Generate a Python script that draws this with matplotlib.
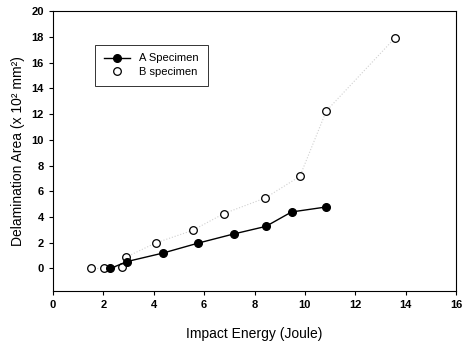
import matplotlib.pyplot as plt
import numpy as np

plt.rcParams['font.family'] = ['Liberation Sans', 'DejaVu Sans']

# impact energy (Joule) and delamination area (x 10^2 mm^2)
a_energy = [2.28, 2.94, 4.37, 5.76, 7.17, 8.45, 9.47, 10.85]
a_area = [0.0, 0.54, 1.2, 1.97, 2.68, 3.27, 4.39, 4.78]

b_energy = [1.52, 2.03, 2.73, 2.91, 4.07, 5.54, 6.78, 8.43, 9.80, 10.85, 13.57]
b_area = [0.0, 0.0, 0.1, 0.89, 1.98, 2.96, 4.26, 5.48, 7.16, 12.24, 17.9]

x_ticks = np.arange(0, 17, 2)
y_ticks = np.arange(0, 21, 2)

fig = plt.figure(figsize=(4.63, 3.45), dpi=100)
ax = fig.add_axes([0.1145, 0.1565, 0.8705, 0.8115])

# faint dotted trend for B
ax.plot(b_energy, b_area, linestyle=':', color='#d0d0d0', linewidth=0.8, zorder=1)
ax.plot(a_energy, a_area, marker='o', linestyle='-', color='black', markersize=5.5,
        linewidth=1.0, label='A Specimen', zorder=3)
ax.plot(b_energy, b_area, marker='o', linestyle='none', markerfacecolor='white',
        markeredgecolor='black', markersize=5.5, markeredgewidth=0.9,
        label='B specimen', zorder=2)

ax.set_xlim(0, 16)
ax.set_ylim(-1.75, 20)
ax.set_xticks(x_ticks)
ax.set_yticks(y_ticks)
ax.tick_params(direction='out', length=3, width=0.8, labelsize=8)
for lab in ax.get_xticklabels() + ax.get_yticklabels():
    lab.set_fontweight('bold')

ax.set_xlabel('Impact Energy (Joule)', fontsize=10, labelpad=12)
ax.set_ylabel('Delamination Area (x 10² mm²)', fontsize=10, labelpad=5)

leg = ax.legend(loc='upper left', bbox_to_anchor=(0.09, 0.9), fontsize=8,
                frameon=True, fancybox=False, edgecolor='black', borderpad=0.8,
                handlelength=2.4, labelspacing=0.3)
leg.get_frame().set_linewidth(0.7)

fig.savefig('out.png', dpi=100)
